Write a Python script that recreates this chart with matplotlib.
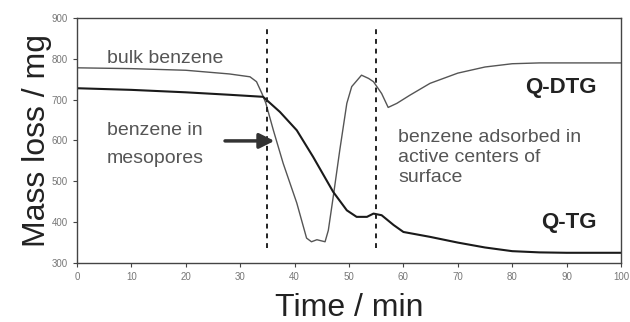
import matplotlib.pyplot as plt

# --- data ---
t_dtg = [0, 10, 20, 28, 31.8, 33, 34, 34.7, 36.1, 37.9, 40.4, 42.2, 43.1, 44.1,
         45.6, 46.2, 47.1, 48.3, 49.6, 50.5, 52.3, 53.6, 54.5, 56, 57.2, 58.8,
         61.2, 64.9, 70, 75, 80, 85, 90, 100]
dtg = [778, 776, 772, 763, 756, 744, 715, 692, 625, 544, 447, 361, 352, 357,
       352, 380, 462, 576, 691, 732, 760, 752, 744, 715, 681, 691,
       711, 740, 765, 780, 788, 790, 790, 790]

t_tg = [0, 10, 20, 28, 34.2, 37.3, 40.4, 43.4, 47.1, 49.6, 51.4, 53.3, 54.5,
        56, 58.2, 60, 64.9, 70, 75, 80, 85, 90, 100]
tg = [728, 724, 718, 712, 707, 670, 625, 560, 474, 429, 413, 413, 421,
      417, 393, 376, 364, 350, 338, 329, 326, 325, 325]

markers_t = [35, 55]

plt.rcParams['font.family'] = ['Liberation Sans', 'DejaVu Sans']

fig = plt.figure(figsize=(6.3, 3.22), dpi=100)
ax = fig.add_axes([77 / 630, 1 - 263 / 322, 544 / 630, 245 / 322])

ax.plot(t_dtg, dtg, color='#555555', lw=1.0)
ax.plot(t_tg, tg, color='#1a1a1a', lw=1.5)
for m in markers_t:
    ax.plot([m, m], [336, 875], color='#222222', lw=1.4, ls=(0, (2.5, 2.5)))

ax.set_xlim(0, 100)
ax.set_ylim(300, 900)
ax.set_xticks(range(0, 101, 10))
ax.set_yticks(range(300, 901, 100))
ax.tick_params(labelsize=7, colors='#444444', length=3, width=0.8, labelcolor='#777777')
for s in ax.spines.values():
    s.set_color('#444444')
    s.set_linewidth(1.0)

ax.set_xlabel('Time / min', fontsize=23, color='#222222', labelpad=8)
ax.set_ylabel('Mass loss / mg', fontsize=23, color='#222222', labelpad=0)

txt = dict(fontsize=14, color='#555555', va='center')
ax.text(5.5, 802, 'bulk benzene', **txt)
ax.text(5.5, 625, 'benzene in', **txt)
ax.text(5.5, 557, 'mesopores', **txt)
ax.text(59, 608, 'benzene adsorbed in', **txt)
ax.text(59, 559, 'active centers of', **txt)
ax.text(59, 510, 'surface', **txt)
ax.text(95.5, 731, 'Q-DTG', ha='right', va='center', fontsize=16,
        fontweight='bold', color='#222222')
ax.text(95.5, 398, 'Q-TG', ha='right', va='center', fontsize=16,
        fontweight='bold', color='#222222')

ax.annotate('', xy=(36.8, 599), xytext=(26.7, 599),
            arrowprops=dict(arrowstyle='-|>,head_length=0.9,head_width=0.45',
                            color='#333333', lw=2.5))

fig.savefig('out.png', dpi=100)
